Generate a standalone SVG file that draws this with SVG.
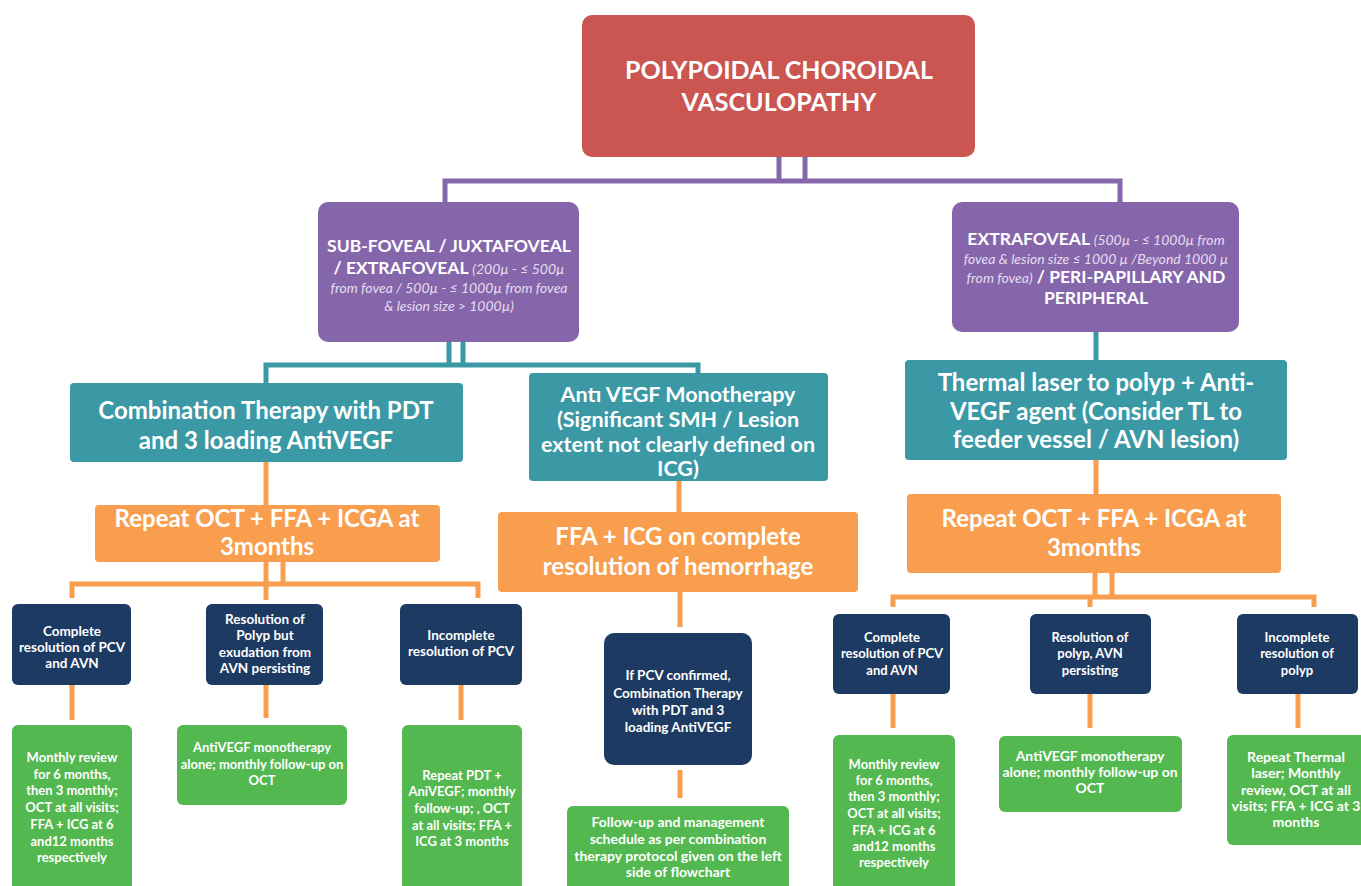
<svg xmlns="http://www.w3.org/2000/svg" width="1361" height="886" viewBox="0 0 1361 886">
<style>
text{font-family:Lato,"Liberation Sans",sans-serif;font-weight:bold;fill:#fff;text-anchor:middle}
.root{fill:#CA5551}
.pur{fill:#8566AA}
.teal{fill:#3B99A6}
.org{fill:#F89E4E}
.navy{fill:#1D3A62}
.grn{fill:#53B850}
.cp{stroke:#8567AB;stroke-width:5;fill:none}
.ct{stroke:#3B99A6;stroke-width:5;fill:none}
.co{stroke:#F89E4E;stroke-width:5;fill:none}
.t22{font-size:25px}
.t20{font-size:24px}
.t18{font-size:21.5px}
.t16{font-size:17.5px}
.t13{font-size:13px}
.t14{font-size:14px}
.n{font-size:13.5px}
.it{font-style:italic;font-weight:normal;font-size:14px;fill:#E6DDF0}
</style>
<g id="connectors">
<path class="cp" d="M779 157V181M805 157V181M445 203V181H1120V203"/>
<path class="ct" d="M449 342V365M463 342V365M266 383V365H698V373M1096 332V360"/>
<path class="co" d="M266 462V505M266 562V584M283 562V584M72 598V584H478V598M266 584V600"/>
<path class="co" d="M72 685V720M266 685V718M461 685V720"/>
<path class="co" d="M679 481V512M680 592V627M680 770V798"/>
<path class="co" d="M1096 460V495M1095 573V597M1112 573V597M893 607V597H1314V607M1090 597V607"/>
<path class="co" d="M893 694V728M1090 694V728M1298 694V728"/>
</g>
<g id="root"><rect class="root" x="582" y="15" width="393" height="142" rx="10"/>
<text class="t22" x="779" y="79">POLYPOIDAL CHOROIDAL</text>
<text class="t22" x="779" y="111">VASCULOPATHY</text></g>
<g id="subfoveal"><rect class="pur" x="318" y="202" width="261" height="140" rx="10"/>
<text class="t16" x="449" y="252">SUB-FOVEAL / JUXTAFOVEAL</text>
<text class="t16" x="449" y="274">/ EXTRAFOVEAL <tspan class="it">(200µ - ≤ 500µ</tspan></text>
<text class="it" x="449" y="293">from fovea / 500µ - ≤ 1000µ from fovea</text>
<text class="it" x="449" y="311">&amp; lesion size &gt; 1000µ)</text></g>
<g id="extrafoveal"><rect class="pur" x="952" y="202" width="287" height="130" rx="10"/>
<text class="t16" x="1096" y="245">EXTRAFOVEAL <tspan class="it">(500µ - ≤ 1000µ from</tspan></text>
<text class="it" x="1096" y="264">fovea &amp; lesion size ≤ 1000 µ /Beyond 1000 µ</text>
<text class="t16" x="1096" y="283"><tspan class="it">from fovea)</tspan> / PERI-PAPILLARY AND</text>
<text class="t16" x="1096" y="304">PERIPHERAL</text></g>
<g id="combination"><rect class="teal" x="70" y="383" width="393" height="79" rx="4"/>
<text class="t20" x="266" y="419">Combination Therapy with PDT</text>
<text class="t20" x="266" y="449">and 3 loading AntiVEGF</text></g>
<g id="antivegf"><rect class="teal" x="529" y="373" width="299" height="108" rx="4"/>
<text class="t18" x="678" y="402">Antı VEGF Monotherapy</text>
<text class="t18" x="678" y="427">(Significant SMH / Lesion</text>
<text class="t18" x="678" y="452">extent not clearly defined on</text>
<text class="t18" x="678" y="476">ICG)</text></g>
<g id="thermal"><rect class="teal" x="905" y="360" width="382" height="100" rx="4"/>
<text class="t20" x="1096" y="391">Thermal laser to polyp + Anti-</text>
<text class="t20" x="1096" y="420">VEGF agent (Consider TL to</text>
<text class="t20" x="1096" y="448">feeder vessel / AVN lesion)</text></g>
<g id="repeat-left"><rect class="org" x="95" y="505" width="345" height="57" rx="4"/>
<text class="t20" x="267" y="527">Repeat OCT + FFA + ICGA at</text>
<text class="t20" x="267" y="555">3months</text></g>
<g id="ffa-icg"><rect class="org" x="498" y="512" width="360" height="80" rx="4"/>
<text class="t20" x="678" y="545">FFA + ICG on complete</text>
<text class="t20" x="678" y="575">resolution of hemorrhage</text></g>
<g id="repeat-right"><rect class="org" x="907" y="494" width="374" height="79" rx="4"/>
<text class="t20" x="1094" y="527">Repeat OCT + FFA + ICGA at</text>
<text class="t20" x="1094" y="556">3months</text></g>
<g id="l-complete"><rect class="navy" x="12" y="604" width="119" height="81" rx="6"/>
<text class="n" x="72" y="636">Complete</text><text class="n" x="72" y="652">resolution of PCV</text><text class="n" x="72" y="668">and AVN</text></g>
<g id="l-polyp"><rect class="navy" x="206" y="604" width="117" height="81" rx="6"/>
<text class="n" x="265" y="624">Resolution of</text><text class="n" x="265" y="640">Polyp but</text><text class="n" x="265" y="657">exudation from</text><text class="n" x="265" y="673">AVN persisting</text></g>
<g id="l-incomplete"><rect class="navy" x="400" y="604" width="122" height="81" rx="6"/>
<text class="n" x="461" y="640">Incomplete</text><text class="n" x="461" y="656">resolution of PCV</text></g>
<g id="m-confirmed"><rect class="navy" x="604" y="633" width="148" height="132" rx="10"/>
<text class="n" x="678" y="680">If PCV confirmed,</text><text class="n" x="678" y="698">Combination Therapy</text><text class="n" x="678" y="715">with PDT and 3</text><text class="n" x="678" y="732">loading AntiVEGF</text></g>
<g id="r-complete"><rect class="navy" x="833" y="614" width="117" height="80" rx="6"/>
<text class="t13" x="892" y="642">Complete</text><text class="t13" x="892" y="658">resolution of PCV</text><text class="t13" x="892" y="675">and AVN</text></g>
<g id="r-polyp"><rect class="navy" x="1030" y="614" width="121" height="80" rx="6"/>
<text class="t13" x="1090" y="642">Resolution of</text><text class="t13" x="1090" y="658">polyp, AVN</text><text class="t13" x="1090" y="675">persisting</text></g>
<g id="r-incomplete"><rect class="navy" x="1237" y="614" width="121" height="80" rx="6"/>
<text class="t13" x="1297" y="642">Incomplete</text><text class="t13" x="1297" y="658">resolution of</text><text class="t13" x="1297" y="675">polyp</text></g>
<g id="lg-monthly"><rect class="grn" x="12" y="725" width="120" height="170" rx="6"/>
<text class="t13" x="72" y="762">Monthly review</text><text class="t13" x="72" y="779">for 6 months,</text><text class="t13" x="72" y="795">then 3 monthly;</text><text class="t13" x="72" y="812">OCT at all visits;</text><text class="t13" x="72" y="829">FFA + ICG at 6</text><text class="t13" x="72" y="846">and12 months</text><text class="t13" x="72" y="862">respectively</text></g>
<g id="lg-antivegf"><rect class="grn" x="177" y="725" width="170" height="80" rx="6"/>
<text class="t13" x="262" y="752">AntiVEGF monotherapy</text><text class="t13" x="262" y="769">alone; monthly follow-up on</text><text class="t13" x="262" y="785">OCT</text></g>
<g id="lg-repeat"><rect class="grn" x="402" y="725" width="120" height="170" rx="6"/>
<text class="t13" x="462" y="780">Repeat PDT +</text><text class="t13" x="462" y="796">AniVEGF; monthly</text><text class="t13" x="462" y="813">follow-up; , OCT</text><text class="t13" x="462" y="830">at all visits; FFA +</text><text class="t13" x="462" y="846">ICG at 3 months</text></g>
<g id="mg-followup"><rect class="grn" x="567" y="806" width="222" height="90" rx="6"/>
<text class="t14" x="678" y="827">Follow-up and management</text><text class="t14" x="678" y="844">schedule as per combination</text><text class="t14" x="678" y="861">therapy protocol given on the left</text><text class="t14" x="678" y="877">side of flowchart</text></g>
<g id="rg-monthly"><rect class="grn" x="833" y="735" width="122" height="160" rx="6"/>
<text class="t13" x="894" y="769">Monthly review</text><text class="t13" x="894" y="785">for 6 months,</text><text class="t13" x="894" y="801">then 3 monthly;</text><text class="t13" x="894" y="818">OCT at all visits;</text><text class="t13" x="894" y="835">FFA + ICG at 6</text><text class="t13" x="894" y="851">and12 months</text><text class="t13" x="894" y="867">respectively</text></g>
<g id="rg-antivegf"><rect class="grn" x="999" y="736" width="183" height="76" rx="6"/>
<text class="t14" x="1090" y="761">AntiVEGF monotherapy</text><text class="t14" x="1090" y="777">alone; monthly follow-up on</text><text class="t14" x="1090" y="793">OCT</text></g>
<g id="rg-thermal"><rect class="grn" x="1227" y="735" width="140" height="110" rx="6"/>
<text class="t14" x="1296" y="762">Repeat Thermal</text><text class="t14" x="1296" y="778">laser; Monthly</text><text class="t14" x="1296" y="795">review, OCT at all</text><text class="t14" x="1296" y="811">visits; FFA + ICG at 3</text><text class="t14" x="1296" y="827">months</text></g>
</svg>
